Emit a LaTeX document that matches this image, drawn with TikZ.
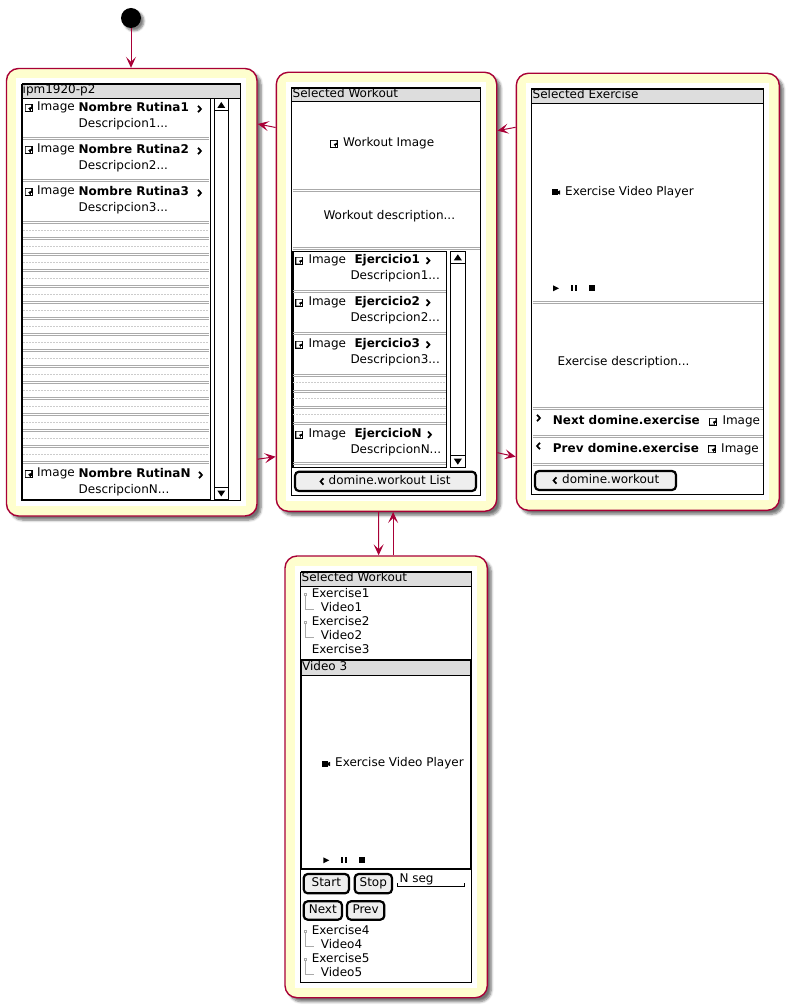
\documentclass[tikz,border=0pt]{standalone}
\usepackage{fontspec}
\setmainfont{DejaVu Sans}
\usetikzlibrary{arrows.meta,shadows.blur}
\definecolor{stbg}{HTML}{FEFECE}
\definecolor{stln}{HTML}{A80036}
\definecolor{ttl}{HTML}{DDDDDD}
\definecolor{sep}{HTML}{AAAAAA}
\definecolor{btn}{HTML}{EEEEEE}
\tikzset{
 statebox/.style={draw=stln,line width=1.4pt,fill=stbg,rounded corners=12pt,inner sep=0pt,
   blur shadow={shadow xshift=4pt,shadow yshift=-4pt,shadow blur steps=6,shadow blur radius=2.5pt,shadow opacity=55}},
 conn/.style={draw=stln,line width=1pt,-{Stealth[length=11pt,width=10pt,inset=5pt]}},
 txt/.style={inner sep=0pt,anchor=mid west,font=\fontsize{12}{14}\selectfont,text=black},
 bld/.style={txt,font=\fontsize{12}{14}\selectfont\bfseries},
 frame/.style={draw=black,line width=1pt,fill=white},
 thk/.style={draw=black,line width=2pt},
 title/.style={fill=ttl,draw=black,line width=1pt},
 dbl/.style={draw=sep,line width=.8pt},
 dots/.style={draw=sep!60,line width=.5pt,dash pattern=on 1.5pt off 1.5pt},
 buttonbox/.style={draw=black,line width=2.2pt,fill=btn,rounded corners=4pt},
 treeln/.style={draw=sep,line width=.8pt},
}
\newcommand\imgicon[2]{\fill[black] (#1,#2-4) rectangle ++(8,8);
  \fill[white] (#1+1,#2-3) -- (#1+6.5,#2-3) -- (#1+6.5,#2-1.2) -- (#1+3.5,#2+.2) -- (#1+5.5,#2+3) -- (#1+1,#2+3) -- cycle;
  \fill[white] (#1+6,#2+1.5) rectangle (#1+7,#2+3);}
\newcommand\chevr[2]{\draw[black,line width=1.7pt] (#1,#2-3.2) -- (#1+3,#2) -- (#1,#2+3.2);}
\newcommand\chevl[2]{\draw[black,line width=1.7pt] (#1+3,#2-3.2) -- (#1,#2) -- (#1+3,#2+3.2);}
\newcommand\camicon[2]{\fill[black] (#1,#2-3) rectangle (#1+6,#2+3);
  \fill[black] (#1+6,#2-1.2) -- (#1+8,#2-2.2) -- (#1+8,#2+2.2) -- (#1+6,#2+1.2) -- cycle;}
\newcommand\ctrls[2]{\fill[black] (#1,#2-3) -- (#1+6,#2) -- (#1,#2+3) -- cycle;
  \fill[black] (#1+18,#2-3) rectangle ++(2,6);\fill[black] (#1+22,#2-3) rectangle ++(2,6);
  \fill[black] (#1+36,#2-3) rectangle ++(6,6);}
\newcommand\dblsep[3]{\draw[dbl] (#1,#3) -- (#2,#3) (#1,#3+2) -- (#2,#3+2);}
\newcommand\uptri[2]{\fill[black] (#1-4,#2+3) -- (#1,#2-3) -- (#1+4,#2+3) -- cycle;}
\newcommand\dntri[2]{\fill[black] (#1-4,#2-3) -- (#1,#2+3) -- (#1+4,#2-3) -- cycle;}
\newcommand\treeg[2]{\draw[treeln] (#1,#2+1) -- (#1,#2+15) -- (#1+8.5,#2+15);
  \filldraw[draw=sep,fill=white,line width=.6pt] (#1-1,#2-1) rectangle (#1+1,#2+1);}
\begin{document}
\begin{tikzpicture}[x=1pt,y=-1pt]
\useasboundingbox (0,0) rectangle (789,1008);
% start
\node[circle,fill=black,minimum size=20pt,inner sep=0pt,
  blur shadow={shadow xshift=3pt,shadow yshift=-3pt,shadow blur steps=5,shadow blur radius=2pt,shadow opacity=50}] (start) at (131,18) {};
% states
\node[statebox,minimum width=250.5pt,minimum height=447.5pt] (s1) at (131.75,292.25) {};
\node[statebox,minimum width=220.4pt,minimum height=439pt] (s2) at (386.5,291.8) {};
\node[statebox,minimum width=263pt,minimum height=437pt] (s3) at (647.8,291.8) {};
\node[statebox,minimum width=202.3pt,minimum height=441.7pt] (s4) at (386.15,776.85) {};
% connectors
\draw[conn] (start.south) -- (start.south |- s1.north);
\draw[conn] ([yshift=164.3pt]s2.west) -- ([yshift=168.3pt]s1.east);
\draw[conn] ([yshift=-166.9pt]s1.east) -- ([yshift=-164.9pt]s2.west);
\draw[conn] ([yshift=164.5pt]s3.west) -- ([yshift=161.1pt]s2.east);
\draw[conn] ([yshift=-160.9pt]s2.east) -- ([yshift=-164.9pt]s3.west);
\draw[conn] ([xshift=-8pt]s2.south) -- ([xshift=-7.85pt]s2.south |- s4.north);
\draw[conn] ([xshift=7pt]s4.north) -- ([xshift=7pt]s4.north |- s2.south);
% ---------- state 1
\fill[white] (16,78) rectangle (246,506);
\draw[frame] (22,84) rectangle (240.5,500);
\draw[title] (22,84) rectangle (240.5,98.5);
\draw[thk] (22,84) -- (240.5,84) (22,84) -- (22,500) -- (210,500);
\draw[black,line width=1pt] (210,98.5) -- (210,500);
\draw[black,line width=1pt] (214,99) rectangle (228.5,499.5);
\draw[black,line width=1pt] (214,111) -- (228.5,111) (214,487) -- (228.5,487);
\uptri{221.3}{105}\dntri{221.3}{493.5}
\node[txt] (a0) at (22.5,91) {ipm1920-p2};
\dblsep{23}{209}{137}\dblsep{23}{209}{179.5}
\foreach \k in {0,...,15}{\draw[dbl] (23,221.5+16*\k) -- (209,221.5+16*\k) (23,223.5+16*\k) -- (209,223.5+16*\k);}
\foreach \k in {0,...,14}{\draw[dots] (23,230.3+16*\k) -- (209,230.3+16*\k);}
\imgicon{24.5}{108}\node[txt] (a1) at (37,108) {Image};
\node[bld] (a2) at (78.5,109) {Nombre Rutina1};\chevr{198}{109}
\node[txt] (a3) at (78.5,125) {Descripcion1...};
\imgicon{24.5}{150}\node[txt] (a4) at (37,150) {Image};
\node[bld] (a5) at (78.5,151) {Nombre Rutina2};\chevr{198}{151}
\node[txt] (a6) at (78.5,167) {Descripcion2...};
\imgicon{24.5}{192}\node[txt] (a7) at (37,192) {Image};
\node[bld] (a8) at (78.5,193) {Nombre Rutina3};\chevr{198}{193}
\node[txt] (a9) at (78.5,209) {Descripcion3...};
\imgicon{24.5}{474}\node[txt] (a10) at (37,474) {Image};
\node[bld] (a11) at (78.5,475) {Nombre RutinaN};\chevr{199}{475}
\node[txt] (a12) at (78.5,491) {DescripcionN...};
% ---------- state 2
\fill[white] (286,82) rectangle (486,501.3);
\draw[frame] (291.7,87.7) rectangle (480.7,495.7);
\draw[title] (291.7,87.7) rectangle (480.7,102);
\draw[thk] (291.7,87.7) -- (480.7,87.7);
\node[txt] (b0) at (292.5,95) {Selected Workout};
\dblsep{292.5}{480}{189}\dblsep{292.5}{480}{247.3}
\imgicon{330}{144}\node[txt] (b1) at (343,144) {Workout Image};
\node[txt] (b2) at (323.3,217) {Workout description...};
\draw[black,line width=1pt] (292.5,251.3) rectangle (446.3,467.3);
\draw[thk] (292.5,251.3) -- (292.5,467.3);
\draw[black,line width=1pt] (450.3,251.3) rectangle (465.3,467.3);
\draw[black,line width=1pt] (450.3,263.3) -- (465.3,263.3) (450.3,455.7) -- (465.3,455.7);
\uptri{457.8}{257.3}\dntri{457.8}{461.7}
\dblsep{293}{446}{290}\dblsep{293}{446}{332}\dblsep{293}{446}{374}\dblsep{293}{446}{390}\dblsep{293}{446}{406}\dblsep{293}{446}{422}\dblsep{293}{446}{462.7}
\draw[dots] (293,382.3) -- (446,382.3) (293,398.3) -- (446,398.3) (293,414.5) -- (446,414.5);
\imgicon{295.3}{260.7}\node[txt] (b3) at (308.3,260.7) {Image};
\node[bld] (b4) at (354.3,260.7) {Ejercicio1};\chevr{426.5}{260.7}
\node[txt] (b5) at (350.3,276.7) {Descripcion1...};
\imgicon{295.3}{302.7}\node[txt] (b6) at (308.3,302.7) {Image};
\node[bld] (b7) at (354.3,302.7) {Ejercicio2};\chevr{426.5}{302.7}
\node[txt] (b8) at (350.3,318.7) {Descripcion2...};
\imgicon{295.3}{344.7}\node[txt] (b9) at (308.3,344.7) {Image};
\node[bld] (b10) at (354.3,344.7) {Ejercicio3};\chevr{426.5}{344.7}
\node[txt] (b11) at (350.3,360.7) {Descripcion3...};
\imgicon{295.3}{434.7}\node[txt] (b12) at (308.3,434.7) {Image};
\node[bld] (b13) at (354.3,434.7) {EjercicioN};\chevr{428}{434.7}
\node[txt] (b14) at (350.3,450.7) {DescripcionN...};
\draw[buttonbox] (295,471.7) rectangle (476,491);
\chevl{320.5}{481.5}\node[txt] (b15) at (328.5,481.5) {domine.workout List};
% ---------- state 3
\fill[white] (526,83.3) rectangle (769.3,500);
\draw[frame] (531.7,88.7) rectangle (763.7,494.3);
\draw[title] (531.7,88.7) rectangle (763.7,103.3);
\draw[thk] (531.7,88.7) -- (763.7,88.7);
\node[txt] (c0) at (532.5,96) {Selected Exercise};
\dblsep{532.5}{763}{301.7}
\camicon{552}{192.5}\node[txt] (c1) at (565,192.5) {Exercise Video Player};
\ctrls{553}{288.3}
\node[txt] (c2) at (557.3,362.7) {Exercise description...};
\dblsep{532.5}{763}{407}\dblsep{532.5}{763}{435}\dblsep{532.5}{763}{463}
\chevr{537}{418}\node[bld] (c3) at (552.7,421.7) {Next domine.exercise};
\imgicon{709}{421.7}\node[txt] (c4) at (722.3,421.7) {Image};
\chevl{537}{446}\node[bld] (c5) at (552.7,449.3) {Prev domine.exercise};
\imgicon{708}{449.3}\node[txt] (c6) at (721,449.3) {Image};
\draw[buttonbox] (535,471) rectangle (676,490);
\chevl{553.5}{480.5}\node[txt] (c7) at (562,480.5) {domine.workout};
% ---------- state 4
\fill[white] (295,566) rectangle (477.3,988.3);
\draw[frame] (300.7,572) rectangle (471.7,982.3);
\draw[title] (300.7,572) rectangle (471.7,586.3);
\draw[thk] (300.7,572) -- (471.7,572);
\node[txt] (d0) at (301.5,579) {Selected Workout};
\treeg{305.3}{594}\node[txt] (d1) at (311.7,594.3) {Exercise1};
\node[txt] (d2) at (320.7,608.7) {Video1};
\treeg{305.3}{622}\node[txt] (d3) at (311.7,622.3) {Exercise2};
\node[txt] (d4) at (320.7,636.7) {Video2};
\node[txt] (d5) at (311.7,650.7) {Exercise3};
\draw[fill=white,draw=black,line width=2pt] (301.3,660) rectangle (470.7,869.3);
\draw[fill=ttl,draw=black,line width=1pt] (301.3,660) rectangle (470.7,675.3);
\draw[thk] (301.3,660) rectangle (470.7,869.3);
\node[txt] (d6) at (302,667.5) {Video 3};
\camicon{322}{764}\node[txt] (d7) at (335,764) {Exercise Video Player};
\ctrls{323.3}{860.3}
\draw[buttonbox] (303.7,874) rectangle (349,893.3);
\node[txt,anchor=mid] (d8) at (326.3,883.5) {Start};
\draw[buttonbox] (354.7,874) rectangle (392,893.3);
\node[txt,anchor=mid] (d9) at (373.3,883.5) {Stop};
\node[txt] (d10) at (399.3,880) {N seg};
\draw[black,line width=1pt] (397.7,883) -- (397.7,886.3) -- (464.3,886.3) -- (464.3,883);
\draw[buttonbox] (303.7,901.3) rectangle (342,919.7);
\node[txt,anchor=mid] (d11) at (322.8,910.5) {Next};
\draw[buttonbox] (347,901.3) rectangle (384.3,919.7);
\node[txt,anchor=mid] (d12) at (365.6,910.5) {Prev};
\treeg{305.3}{931}\node[txt] (d13) at (311.7,931.3) {Exercise4};
\node[txt] (d14) at (320.7,945.7) {Video4};
\treeg{305.3}{959}\node[txt] (d15) at (311.7,959.7) {Exercise5};
\node[txt] (d16) at (320.7,973.7) {Video5};
\end{tikzpicture}
\end{document}
